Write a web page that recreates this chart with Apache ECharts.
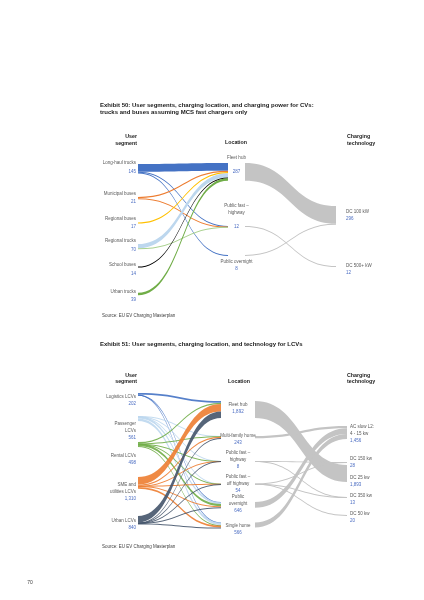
<!DOCTYPE html>
<html><head><meta charset="utf-8">
<script src="https://cdn.jsdelivr.net/npm/echarts@6/dist/echarts.min.js"></script>
<style>html,body{margin:0;padding:0;background:#fff}#c{width:424px;height:600px}</style>
</head><body><div id="c"></div>
<script>
// ---------------- Exhibit 50 (trucks and buses) ----------------
const users50 = ['Long-haul trucks', 'Municipal buses', 'Regional buses', 'Regional trucks', 'School buses', 'Urban trucks'];
const userTotals50 = [145, 21, 17, 70, 14, 39];
const locations50 = ['Fleet hub', 'Public fast –\nhighway', 'Public overnight'];
const locationTotals50 = [287, 12, 8];
const techs50 = ['DC 100 kW', 'DC 500+ kW'];
const techTotals50 = [296, 12];
// rows = user segments, columns = locations
const userToLocation50 = [
  [127, 10, 8],
  [20, 1, 0],
  [17, 0, 0],
  [69, 1, 0],
  [14, 0, 0],
  [39, 0, 0]
];
// rows = locations, columns = charging technology
const locationToTech50 = [
  [287, 0],
  [0, 12],
  [8, 0]
];

// ---------------- Exhibit 51 (LCVs) ----------------
const users51 = ['Logistics LCVs', 'Passenger\nLCVs', 'Rental LCVs', 'SME and\nutilities LCVs', 'Urban LCVs'];
const userTotals51 = [202, 561, 498, 1310, 840];
const locations51 = ['Fleet hub', 'Multi-family home', 'Public fast –\nhighway', 'Public fast –\noff highway', 'Public\novernight', 'Single home'];
const locationTotals51 = [1892, 243, 8, 54, 646, 566];
const techs51 = ['AC slow L2:\n4 - 15 kw', 'DC 150 kw', 'DC 25 kw', 'DC 350 kw', 'DC 50 kw'];
const techTotals51 = [1456, 28, 1893, 13, 20];
const userToLocation51 = [
  [182, 0, 0, 0, 16, 4],
  [0, 40, 2, 15, 214, 290],
  [150, 40, 2, 15, 230, 61],
  [840, 130, 2, 20, 120, 198],
  [720, 33, 2, 4, 66, 15]
];
const locationToTech51 = [
  [0, 0, 1892, 0, 0],
  [243, 0, 0, 0, 0],
  [0, 4, 0, 4, 0],
  [0, 24, 0, 9, 20],
  [646, 0, 0, 0, 0],
  [566, 0, 0, 0, 0]
];

// ---------------- styles & layout ----------------
const W = 424, H = 600;
const FONT = "'Liberation Sans', Arial, sans-serif";
const LABEL_GRAY = '#595959';
const VALUE_BLUE = '#4A6CC2';
const LINK_GRAY = '#C4C4C4';
const fmt = v => v.toLocaleString('en-US');

const style50 = {
  colors: ['#4472C4', '#ED7D31', '#FFC000', '#BDD7EE', '#000000', '#70AD47'],
  linkColorOverride: { '3-1': '#A9D18E' },
  linkOpacity: 1,
  ky: 0.062, bindingColumn: 0,
  nodeWidth: 17,
  colX: [121, 228, 336],
  nodeY: [[164, 197, 222.5, 244, 266.6, 292.8], [163, 226, 255], [206, 266]],
  labelDist: [2, 0, 10],
  lineH: [8.5, 7, 7],
  labelDy: [[-1, 0, -0.5, -0.7, 2, 2], [-7, -10, 9.75], [0, 3]],
  gapLine: [[0, 0, 0, 0, 0, 0], [1, 1, 0], [0, 0]]
};
const style51 = {
  colors: ['#4472C4', '#BDD7EE', '#70AD47', '#ED7D31', '#44546A'],
  linkColorOverride: {},
  linkOpacity: 0.9,
  ky: 0.009, bindingColumn: 1,
  nodeWidth: 34,
  colX: [104, 221, 347],
  nodeY: [[393, 416, 442, 477, 516], [401, 436, 461, 483.5, 502, 522.5], [426, 462, 465, 497, 515]],
  labelDist: [2, 0, 3],
  lineH: [7, 7, 7],
  labelDy: [[6, 12, 15, 8.6, 4.2], [-1.5, 2.4, -1, 0, -1, 4], [1, 0, 7.5, 2.5, 2]],
  gapLine: [[0, 0, 0, 0, 0], [0, 0, 0, 0, 0, 0], [0, 0, 0, 0, 0]]
};

function rich(lh) {
  return {
    n: { fontFamily: FONT, fontSize: 4.5, color: LABEL_GRAY, lineHeight: lh },
    v: { fontFamily: FONT, fontSize: 4.5, color: VALUE_BLUE, lineHeight: lh }
  };
}

function buildSeries(users, userTotals, locations, locationTotals, techs, techTotals, u2l, l2t, st) {
  const cols = [users, locations, techs];
  const totals = [userTotals, locationTotals, techTotals];
  const positions = ['insideRight', 'inside', 'insideLeft'];
  const data = [];
  cols.forEach((names, c) => {
    names.forEach((name, i) => {
      data.push({
        name: name,
        value: totals[c][i],
        total: totals[c][i],
        gap: st.gapLine[c][i],
        localX: st.colX[c] / W,
        localY: st.nodeY[c][i] / H,
        itemStyle: { color: c === 0 ? st.colors[i] : LINK_GRAY, opacity: 0 },
        label: {
          position: positions[c],
          distance: st.labelDist[c],
          offset: [0, st.labelDy[c][i]],
          lineHeight: st.lineH[c],
          rich: rich(st.lineH[c])
        }
      });
    });
  });
  const links = [];
  u2l.forEach((row, i) => row.forEach((v, j) => {
    if (v > 0) links.push({
      source: users[i], target: locations[j], value: v,
      lineStyle: { color: st.linkColorOverride[i + '-' + j] || st.colors[i], opacity: st.linkOpacity }
    });
  }));
  l2t.forEach((row, i) => row.forEach((v, j) => {
    if (v > 0) links.push({
      source: locations[i], target: techs[j], value: v,
      lineStyle: { color: LINK_GRAY, opacity: 1 }
    });
  }));
  // node gap chosen so the library's own scale gives the wanted px-per-unit
  const colNames = cols[st.bindingColumn];
  const colSum = totals[st.bindingColumn].reduce((a, b) => a + b, 0);
  const nodeGap = (H - st.ky * colSum) / (colNames.length - 1);
  return {
    type: 'sankey',
    left: 0, top: 0, right: 0, bottom: 0,
    nodeWidth: st.nodeWidth,
    nodeGap: nodeGap,
    layoutIterations: 0,
    draggable: false,
    silent: true,
    animation: false,
    emphasis: { disabled: true },
    data: data,
    links: links,
    lineStyle: { curveness: 0.5 },
    label: {
      show: true,
      fontFamily: FONT, fontSize: 4.5, color: LABEL_GRAY,
      formatter: p => {
        const d = p.data;
        const lines = d.name.split('\n').map(s => '{n|' + s + '}');
        if (d.gap) lines.push('{n| }');
        lines.push('{v|' + fmt(d.total) + '}');
        return lines.join('\n');
      }
    }
  };
}

function txt(x, y, text, opt) {
  opt = opt || {};
  return {
    type: 'text', x: x, y: y, silent: true,
    style: {
      text: text,
      fontFamily: FONT,
      fontSize: opt.size || 5.5,
      fontWeight: opt.bold ? 'bold' : 'normal',
      fill: opt.color || '#1a1a1a',
      align: opt.align || 'left', textAlign: opt.align || 'left',
      verticalAlign: 'middle', textVerticalAlign: 'middle',
      lineHeight: opt.lh || 7
    }
  };
}

const chart = echarts.init(document.getElementById('c'), null, { renderer: 'canvas' });
chart.setOption({
  backgroundColor: '#ffffff',
  animation: false,
  graphic: [
    txt(100, 108.5, 'Exhibit 50: User segments, charging location, and charging power for CVs:\ntrucks and buses assuming MCS fast chargers only', { bold: true, size: 6, lh: 7.3 }),
    txt(137, 140, 'User\nsegment', { bold: true, size: 5.3, lh: 6.5, align: 'right' }),
    txt(236, 143, 'Location', { bold: true, size: 5.3, align: 'center' }),
    txt(347, 140, 'Charging\ntechnology', { bold: true, size: 5.3, lh: 6.5 }),
    txt(102, 316, 'Source: EU EV Charging Masterplan', { size: 4.5, color: '#404040' }),
    txt(100, 344, 'Exhibit 51: User segments, charging location, and technology for LCVs', { bold: true, size: 6 }),
    txt(137, 378.5, 'User\nsegment', { bold: true, size: 5.3, lh: 6.8, align: 'right' }),
    txt(239, 382, 'Location', { bold: true, size: 5.3, align: 'center' }),
    txt(347, 378.5, 'Charging\ntechnology', { bold: true, size: 5.3, lh: 6.8 }),
    txt(102, 547, 'Source: EU EV Charging Masterplan', { size: 4.5, color: '#404040' }),
    txt(30, 583, '70', { size: 5, color: '#404040', align: 'center' })
  ],
  series: [
    buildSeries(users50, userTotals50, locations50, locationTotals50, techs50, techTotals50, userToLocation50, locationToTech50, style50),
    buildSeries(users51, userTotals51, locations51, locationTotals51, techs51, techTotals51, userToLocation51, locationToTech51, style51)
  ]
});
</script>
</body></html>
